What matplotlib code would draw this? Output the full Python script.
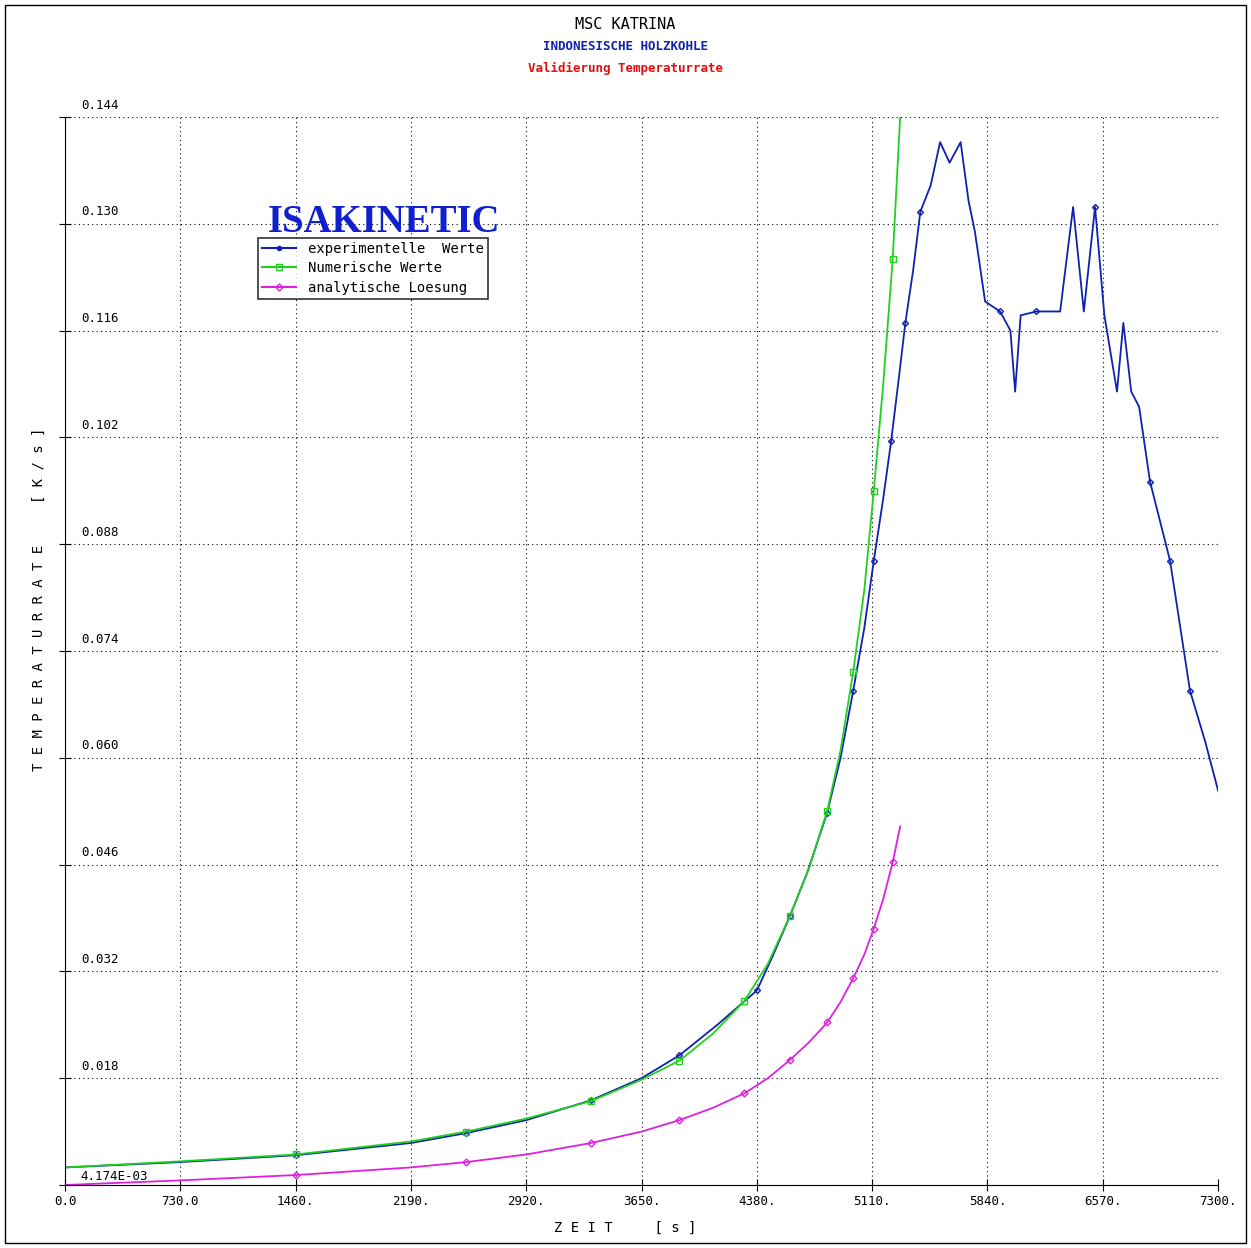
import matplotlib
matplotlib.use("Agg")
import matplotlib.pyplot as plt
from matplotlib.lines import Line2D

# experimentelle Werte
exp_t = [0, 730, 1460, 2190, 2540, 2920, 3330, 3650, 3890, 4130, 4380, 4480, 4590, 4700,
         4825, 4910, 4990, 5060, 5120, 5180, 5230, 5280, 5320, 5370, 5415,
         5480, 5540, 5600, 5670, 5720, 5760, 5825, 5920, 5985, 6015, 6050, 6150, 6300,
         6382, 6450, 6521, 6580, 6660, 6700, 6750, 6800, 6869, 6996, 7122, 7220, 7300]
exp_v = [0.0063, 0.0070, 0.0079, 0.0095, 0.0108, 0.0125, 0.0151, 0.0180, 0.0210, 0.0250,
         0.0295, 0.0340, 0.0393, 0.0450, 0.0528, 0.0600, 0.0688, 0.0770, 0.0858, 0.0940,
         0.1015, 0.1100, 0.1170, 0.1240, 0.1316, 0.1350, 0.1407, 0.1380, 0.1407, 0.1330,
         0.1290, 0.1198, 0.1185, 0.1160, 0.1080, 0.1180, 0.1185, 0.1185, 0.1322, 0.1185,
         0.1322, 0.1180, 0.1080, 0.1170, 0.1080, 0.1060, 0.0962, 0.0858, 0.0688, 0.0620, 0.0557]
exp_mk = [1460, 2540, 3330, 3890, 4380, 4590, 4825, 4990, 5120, 5230, 5320, 5415,
          5920, 6150, 6521, 6869, 6996, 7122]

# Numerische Werte
num_t = [0, 730, 1460, 2190, 2540, 2920, 3330, 3650, 3890, 4100, 4300, 4450, 4590, 4710,
         4825, 4910, 4990, 5060, 5120, 5180, 5240, 5287]
num_v = [0.0063, 0.0071, 0.0080, 0.0097, 0.0110, 0.0127, 0.0150, 0.0178, 0.0203, 0.0238,
         0.0281, 0.0330, 0.0393, 0.0455, 0.0530, 0.0610, 0.0713, 0.0820, 0.0950, 0.1090,
         0.1254, 0.1440]
num_mk = [1460, 2540, 3330, 3890, 4300, 4590, 4825, 4990, 5120, 5240]

# analytische Loesung
ana_t = [0, 730, 1460, 2190, 2540, 2920, 3330, 3650, 3890, 4100, 4300, 4450, 4590, 4710,
         4825, 4910, 4990, 5060, 5120, 5180, 5240, 5287]
ana_v = [0.0040, 0.0046, 0.0053, 0.0063, 0.0070, 0.0080, 0.0095, 0.0110, 0.0125, 0.0141,
         0.0160, 0.0180, 0.0204, 0.0227, 0.0253, 0.0280, 0.0311, 0.0342, 0.0376, 0.0415,
         0.0463, 0.0510]
ana_mk = num_mk

x_ticks = [0, 730, 1460, 2190, 2920, 3650, 4380, 5110, 5840, 6570, 7300]
x_labels = ["0.0", "730.0", "1460.", "2190.", "2920.", "3650.", "4380.", "5110.", "5840.", "6570.", "7300."]
y_ticks = [0.018, 0.032, 0.046, 0.060, 0.074, 0.088, 0.102, 0.116, 0.130, 0.144]

mono = "DejaVu Sans Mono"
fig = plt.figure(figsize=(12.51, 12.48), dpi=100)
fig.patches.append(plt.Rectangle((0.004, 0.004), 0.992, 0.992, transform=fig.transFigure,
                                 fill=False, ec="black", lw=1))
ax = fig.add_axes([0.052, 0.0505, 0.9217, 0.8558])
ax.set_xlim(0, 7300)
ax.set_ylim(0.004, 0.144)
for s in ["top", "right"]:
    ax.spines[s].set_visible(False)
ax.set_xticks(x_ticks)
ax.set_xticklabels(x_labels, family=mono, fontsize=9)
ax.set_yticks([0.004] + y_ticks)
ax.set_yticklabels([])
ax.tick_params(axis="both", direction="inout", length=8)
ax.grid(True, color="black", linestyle=(0, (1, 3)), lw=0.8)
for v in y_ticks:
    ax.text(100, v + 0.0007, f"{v:.3f}", family=mono, fontsize=9, va="bottom")
ax.text(100, 0.0042, "4.174E-03", family=mono, fontsize=9, va="bottom")


def marks(t, v, ts):
    return ts, [v[t.index(x)] for x in ts]


ax.plot(exp_t, exp_v, color="#1020b0", lw=1.3)
ax.plot(*marks(exp_t, exp_v, exp_mk), ls="none", marker="D", ms=3, mfc="none", mec="#1020b0")
ax.plot(num_t, num_v, color="#20d020", lw=1.3)
ax.plot(*marks(num_t, num_v, num_mk), ls="none", marker="s", ms=4, mfc="none", mec="#20d020")
ax.plot(ana_t, ana_v, color="#e020e0", lw=1.3)
ax.plot(*marks(ana_t, ana_v, ana_mk), ls="none", marker="D", ms=3.5, mfc="none", mec="#e020e0")

handles = [Line2D([], [], color="#1020b0", marker="o", ms=3),
           Line2D([], [], color="#20d020", marker="s", ms=4, mfc="none"),
           Line2D([], [], color="#e020e0", marker="D", ms=3.5, mfc="none")]
leg = ax.legend(handles, ["experimentelle  Werte", "Numerische Werte", "analytische Loesung"],
                loc="upper left", bbox_to_anchor=(0.167, 0.887), prop={"family": mono, "size": 10},
                frameon=True, fancybox=False, edgecolor="black", handlelength=2.5,
                borderpad=0.3, labelspacing=0.4, borderaxespad=0)
leg.get_frame().set_linewidth(1.2)
ax.text(0.277, 0.884, "ISAKINETIC", transform=ax.transAxes, ha="center", va="bottom",
        family="Liberation Serif", fontweight="bold", fontsize=28, color="#1020d0",
        fontstretch="condensed")

fig.text(0.5, 0.977, "MSC KATRINA", ha="center", family=mono, fontsize=11)
fig.text(0.5, 0.960, "INDONESISCHE HOLZKOHLE", ha="center", family=mono, fontsize=9,
         color="#1020b0", fontweight="bold")
fig.text(0.5, 0.942, "Validierung Temperaturrate", ha="center", family=mono, fontsize=9,
         color="#e01010", fontweight="bold")
fig.text(0.5, 0.013, "Z E I T     [ s ]", ha="center", family=mono, fontsize=10)
fig.text(0.031, 0.52, "T E M P E R A T U R R A T E     [ K / s ]", rotation=90, va="center",
         ha="center", family=mono, fontsize=10)

fig.savefig("out.png", dpi=100)
